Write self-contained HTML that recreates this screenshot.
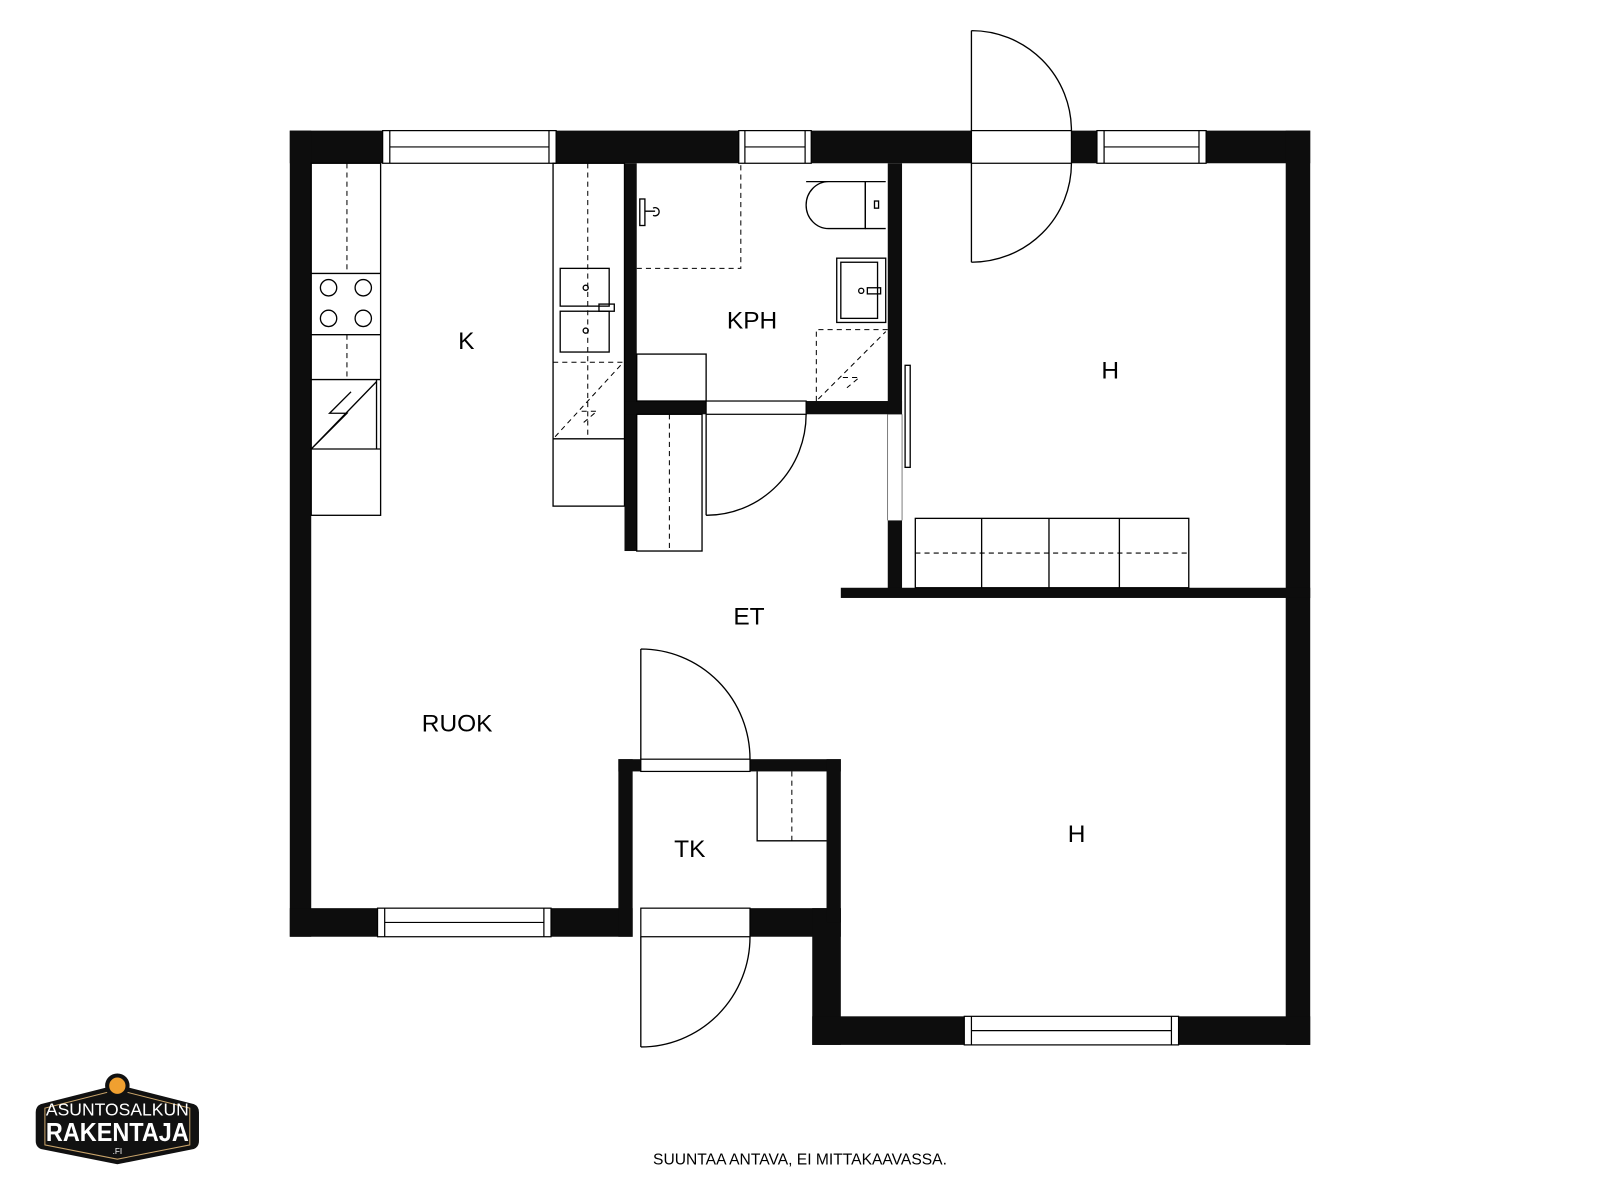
<!DOCTYPE html>
<html><head><meta charset="utf-8"><style>html,body{margin:0;padding:0;background:#fff}svg{display:block}</style></head>
<body>
<svg width="1600" height="1200" viewBox="0 0 1568 1176" xmlns="http://www.w3.org/2000/svg" font-family="Liberation Sans, sans-serif">
<g fill="#0d0d0d">
<rect x="284" y="128" width="1000" height="32"/>
<rect x="284" y="128" width="21" height="790"/>
<rect x="1260" y="128" width="24" height="896"/>
<rect x="284" y="890" width="336" height="28"/>
<rect x="735" y="890" width="89" height="28"/>
<rect x="796" y="890" width="28" height="134"/>
<rect x="796" y="996" width="488" height="28"/>
<rect x="612" y="160" width="12" height="380"/>
<rect x="612" y="393" width="272" height="13"/>
<rect x="870" y="160" width="14" height="246"/>
<rect x="870" y="510" width="14" height="68"/>
<rect x="824" y="576" width="460" height="10"/>
<rect x="606" y="744" width="218" height="12"/>
<rect x="606" y="744" width="14" height="174"/>
<rect x="810" y="744" width="14" height="160"/>
</g>
<g fill="#fff" stroke="#000" stroke-width="1.2">
<rect x="375" y="128" width="170" height="32"/><line x1="382" y1="128" x2="382" y2="160"/><line x1="538" y1="128" x2="538" y2="160"/><line x1="382" y1="144" x2="538" y2="144"/>
<rect x="724" y="128" width="71" height="32"/><line x1="730" y1="128" x2="730" y2="160"/><line x1="789" y1="128" x2="789" y2="160"/><line x1="730" y1="144" x2="789" y2="144"/>
<rect x="1075" y="128" width="107" height="32"/><line x1="1082" y1="128" x2="1082" y2="160"/><line x1="1175" y1="128" x2="1175" y2="160"/><line x1="1082" y1="144" x2="1175" y2="144"/>
<rect x="952" y="128" width="98" height="32"/>
<rect x="370" y="890" width="170" height="28"/><line x1="377" y1="890" x2="377" y2="918"/><line x1="533" y1="890" x2="533" y2="918"/><line x1="377" y1="904" x2="533" y2="904"/>
<rect x="945" y="996" width="210" height="28"/><line x1="952" y1="996" x2="952" y2="1024"/><line x1="1148" y1="996" x2="1148" y2="1024"/><line x1="952" y1="1010" x2="1148" y2="1010"/>
<rect x="628" y="744" width="107" height="12"/>
<rect x="628" y="890" width="107" height="28"/>
<rect x="692" y="393" width="98" height="13"/>
</g>
<g fill="none" stroke="#000" stroke-width="1.3">
<path d="M952 30 V128 M952 30 A98 98 0 0 1 1050 128"/>
<path d="M952 160 V257 M952 257 A98 97 0 0 0 1050 160"/>
<path d="M692 406 V505 M692 505 A98 99 0 0 0 790 406"/>
<path d="M628 744 V636 M628 636 A107 108 0 0 1 735 744"/>
<path d="M628 918 V1026 M628 1026 A107 108 0 0 0 735 918"/>
<rect x="887" y="358" width="5" height="100"/>
<line x1="870" y1="406" x2="870" y2="510" stroke-width="0.5"/>
<line x1="884" y1="406" x2="884" y2="510" stroke-width="0.5"/>
<rect x="305" y="160" width="68" height="345"/>
<line x1="305" y1="268" x2="373" y2="268"/><line x1="305" y1="328" x2="373" y2="328"/>
<line x1="305" y1="372" x2="373" y2="372"/><line x1="305" y1="440" x2="373" y2="440"/>
<line x1="369" y1="372" x2="369" y2="440"/>
<circle cx="322" cy="282" r="8"/><circle cx="356" cy="282" r="8"/><circle cx="322" cy="312" r="8"/><circle cx="356" cy="312" r="8"/>
<path d="M305 440 L369 374 M305 440 L340 405 L323 405 L344 384"/>
<rect x="542" y="160" width="70" height="336"/>
<line x1="542" y1="430" x2="612" y2="430"/>
<rect x="549" y="263" width="48" height="37"/><rect x="549" y="305" width="48" height="40"/>
<rect x="587" y="298" width="15" height="7"/>
<circle cx="574" cy="282" r="2.5"/><circle cx="574" cy="324" r="2.5"/>
<rect x="624" y="347" width="68" height="46"/>
<path d="M790 178 H848 V224 H812 A22 23 0 0 1 812 178" />
<line x1="848" y1="178" x2="868" y2="178"/><line x1="848" y1="224" x2="868" y2="224"/><line x1="848" y1="178" x2="848" y2="224"/>
<rect x="857" y="197" width="4" height="7"/>
<rect x="820" y="253" width="48" height="63"/><rect x="824" y="257" width="36" height="55"/>
<rect x="850" y="282" width="13" height="6"/><circle cx="844" cy="285" r="2.5"/>
<rect x="627" y="195" width="5" height="26"/><path d="M632 207 H642 M640 204 A4 4 0 1 1 640 211"/>
<rect x="624" y="406" width="64" height="134"/>
<rect x="897" y="508" width="268" height="68"/>
<line x1="962" y1="508" x2="962" y2="576"/><line x1="1028" y1="508" x2="1028" y2="576"/><line x1="1097" y1="508" x2="1097" y2="576"/>
<polyline points="742,756 742,824 810,824"/>
</g>
<g fill="none" stroke="#000" stroke-width="1" stroke-dasharray="5,4">
<line x1="340" y1="160" x2="340" y2="268"/><line x1="340" y1="328" x2="340" y2="370"/>
<line x1="576" y1="160" x2="576" y2="430"/>
<line x1="542" y1="355" x2="612" y2="355"/>
<path d="M544 428 L610 356 M570 403 L585 403 L572 414"/>
<path d="M624 263 H726 V160"/>
<path d="M800 393 V323 H870 M802 391 L868 325 M826 370 L842 370 L830 380"/>
<line x1="656" y1="406" x2="656" y2="540"/>
<line x1="897" y1="542" x2="1165" y2="542"/>
<line x1="776" y1="756" x2="776" y2="824"/>
</g>
<g font-size="24" fill="#000" text-anchor="middle">
<text x="457" y="342">K</text>
<text x="737" y="322">KPH</text>
<text x="1088" y="371">H</text>
<text x="734" y="612">ET</text>
<text x="448" y="717">RUOK</text>
<text x="676" y="840">TK</text>
<text x="1055" y="825">H</text>
</g>
<text x="640" y="1141" font-size="15" textLength="288" lengthAdjust="spacingAndGlyphs">SUUNTAA ANTAVA, EI MITTAKAAVASSA.</text>
<g>
<path d="M115 1063 L190 1082 Q195 1084 195 1090 V1118 Q195 1124 190 1126 L115 1141 L40 1126 Q35 1124 35 1118 V1090 Q35 1084 40 1082 Z" fill="#111"/>
<path d="M115 1068 L186 1086 V1122 L115 1136 L44 1122 V1086 Z" fill="none" stroke="#c9a46a" stroke-width="1"/>
<circle cx="115" cy="1064" r="12" fill="#111"/><circle cx="115" cy="1064" r="8" fill="#f0a030"/>
<text x="115" y="1093" font-size="17" fill="#fff" text-anchor="middle" textLength="140" lengthAdjust="spacingAndGlyphs">ASUNTOSALKUN</text>
<text x="115" y="1118" font-size="25" font-weight="bold" fill="#fff" text-anchor="middle" textLength="140" lengthAdjust="spacingAndGlyphs">RAKENTAJA</text>
<text x="115" y="1131" font-size="8" fill="#fff" text-anchor="middle">.FI</text>
</g>
</svg>
</body></html>
